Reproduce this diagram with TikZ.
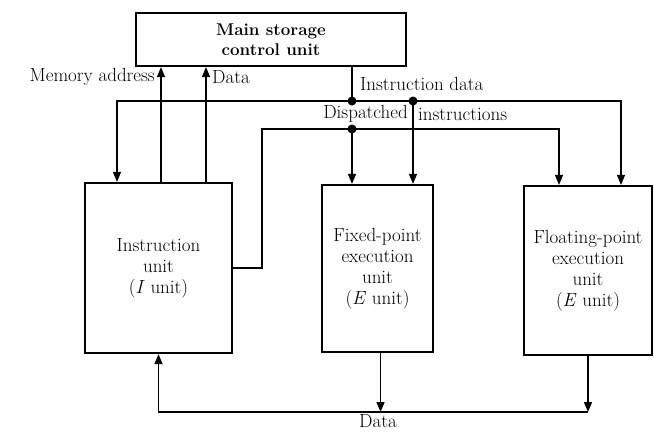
\documentclass[tikz,border=0pt]{standalone}
\usepackage{tikz}
\usetikzlibrary{arrows.meta,positioning}

\tikzset{
  unitbox/.style={draw, line width=2.2pt, align=center, font=\fontsize{19}{21}\selectfont},
  conn/.style={line width=1.4pt},
  arr/.style={conn, -{Triangle[length=10pt,width=8pt]}},
  lbl/.style={inner sep=0pt, font=\fontsize{19}{21}\selectfont},
}

\begin{document}
\begin{tikzpicture}[x=1pt,y=-1pt]
\useasboundingbox (0,0) rectangle (654,432);
\node[unitbox, minimum width=270pt, minimum height=53pt, font=\bfseries\fontsize{17}{20}\selectfont] (msc) at (271,39.5) {Main storage\\control unit};%主記憶制御装置
\node[unitbox, minimum width=147pt, minimum height=170pt] (iu) at (158.5,268) {Instruction\\unit\\(\textit{I} unit)};%命令ユニット
\node[unitbox, minimum width=111pt, minimum height=167pt] (fxu) at (377.5,268.5) {Fixed-point\\execution\\unit\\(\textit{E} unit)};%固定小数点
\node[unitbox, minimum width=128pt, minimum height=169pt] (flu) at (588,270.5) {Floating-point\\execution\\unit\\(\textit{E} unit)};%浮動小数点

\coordinate (jid) at (352,101);
\coordinate (jfx) at (413,101);
\coordinate (jdi) at (352,129);
\coordinate (dcorner) at (262,129);
\coordinate (dbus) at (0,412);

% アドレスとデータ
\draw[arr] ([xshift=2.5pt]iu.north) -- ([xshift=2.5pt]iu.north |- msc.south);
\draw[arr] ([xshift=47.5pt]iu.north) -- ([xshift=47.5pt]iu.north |- msc.south);
% 命令データ
\draw[conn] (msc.south -| jid) -- (jid);
\draw[arr] (jid) -| ([xshift=-41.5pt]iu.north);
\draw[arr] (jid) -| ([xshift=33pt]flu.north);
\draw[arr] (jfx) -- (fxu.north -| jfx);
% 発行された命令
\draw[arr] (iu.east) -| (dcorner) -| ([xshift=-29pt]flu.north);
\draw[arr] (jdi) -- (fxu.north -| jdi);
% 結果データ
\draw[arr] ([xshift=3pt]fxu.south) -- ([xshift=3pt]fxu.south |- dbus);
\draw[arr] (flu.south) -- (flu.south |- dbus);
\draw[arr] (flu.south |- dbus) -| (iu.south);
\foreach \j in {jid,jfx,jdi}
  \fill (\j) circle (4.5pt);

\node[lbl, anchor=east] (lma) at (155,77) {Memory address};
\node[lbl, anchor=west] (ldu) at (212,77) {Data};
\node[lbl, anchor=west] (lid) at (360,84) {Instruction data};
\node[lbl, anchor=east] (ldi) at (408,114) {Dispatched};
\node[lbl, anchor=west] (lin) at (418,114) {instructions};
\node[lbl] (ldb) at (378,421) {Data};
\end{tikzpicture}
\end{document}
